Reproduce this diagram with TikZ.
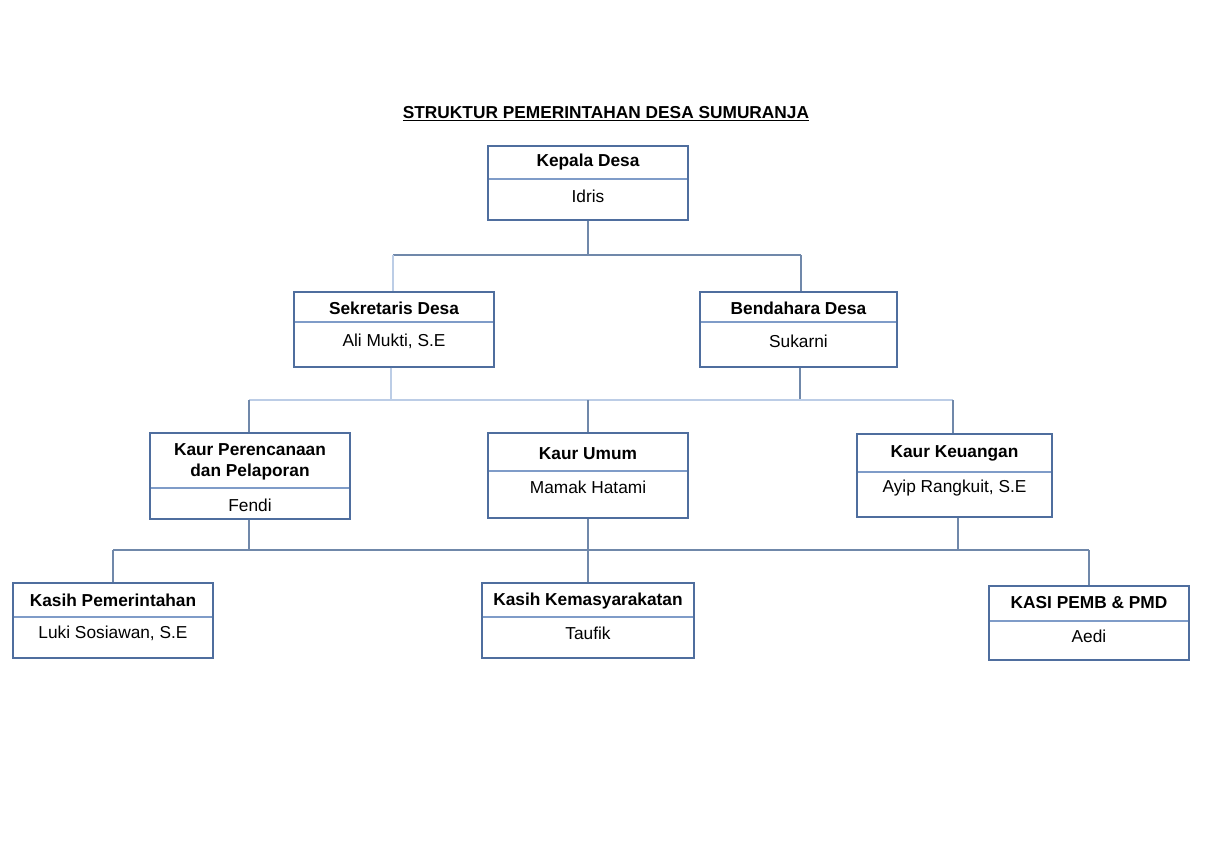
\documentclass[tikz,border=0pt]{standalone}
\usepackage{fontspec}
\setmainfont{Liberation Sans}
\definecolor{boxc}{HTML}{4F6E9E}
\definecolor{divc}{HTML}{7F9CC8}
\definecolor{conm}{HTML}{7088AA}
\definecolor{conl}{HTML}{BCCDE6}
\tikzset{
  orgbox/.style={draw=boxc, line width=1.4pt, fill=white, inner sep=0pt},
  hdr/.style={font=\fontsize{17.3}{21}\selectfont\bfseries, align=center, inner sep=0pt},
  who/.style={font=\fontsize{17.3}{21}\selectfont, inner sep=0pt},
  divl/.style={draw=divc, line width=1.1pt},
  cmed/.style={draw=conm, line width=1.2pt},
  clight/.style={draw=conl, line width=1.4pt},
}
\newcommand{\orgunit}[8]{%
  % #1 name, #2 x1, #3 y1, #4 x2, #5 y2, #6 divider y, #7 header y, #8 header
  \node[orgbox, minimum width={(#4-#2)*1pt}, minimum height={(#5-#3)*1pt}] (#1) at ({(#2+#4)/2},{(#3+#5)/2}) {};
  \draw[divl] (#2+0.8,#6) -- (#4-0.8,#6);
  \node[hdr] (#1h) at ({(#2+#4)/2},#7) {#8};
}
\begin{document}
\begin{tikzpicture}[x=1pt,y=-1pt]
\useasboundingbox[fill=white] (0,0) rectangle (1212,857);

\node[font=\fontsize{17.3}{21}\selectfont\bfseries, inner sep=0pt] (title) at (606,114) {\underline{STRUKTUR PEMERINTAHAN DESA SUMURANJA}};

% boxes
\orgunit{kd}{488}{146}{688}{220}{179}{162}{Kepala Desa}
\node[who] (kdn) at (588,196) {Idris};
\orgunit{sd}{294}{292}{494}{367}{322}{308}{Sekretaris Desa}
\node[who] (sdn) at (394,341) {Ali Mukti, S.E};
\orgunit{bd}{700}{292}{897}{367}{322}{308}{Bendahara Desa}
\node[who] (bdn) at (798.5,341) {Sukarni};
\orgunit{kp}{150}{433}{350}{519}{488}{462}{Kaur Perencanaan\\dan Pelaporan}
\node[who] (kpn) at (250,505) {Fendi};
\orgunit{ku}{488}{433}{688}{518}{471}{454}{Kaur Umum}
\node[who] (kun) at (588,487) {Mamak Hatami};
\orgunit{kk}{857}{434}{1052}{517}{472}{453}{Kaur Keuangan}
\node[who] (kkn) at (954.5,488) {Ayip Rangkuit, S.E};
\orgunit{ksp}{13}{583}{213}{658}{617}{600}{Kasih Pemerintahan}
\node[who] (kspn) at (113,633) {Luki Sosiawan, S.E};
\orgunit{ksk}{482}{583}{694}{658}{617}{601}{Kasih Kemasyarakatan}
\node[who] (kskn) at (588,633) {Taufik};
\orgunit{kpm}{989}{586}{1189}{660}{621}{603}{KASI PEMB \& PMD}
\node[who] (kpmn) at (1089,636) {Aedi};

% junctions
\coordinate (j1) at (587,255);
\coordinate (j1l) at (393,255);
\coordinate (j1r) at (801,255);
\coordinate (j2) at (588,400);
\coordinate (j2l) at (249,400);
\coordinate (j2r) at (953,400);
\coordinate (j3) at (588,550);
\coordinate (j3l) at (113,550);
\coordinate (j3r) at (1089,550);

% level 1
\draw[cmed] (kd.south) -- (kd.south |- j1);
\draw[cmed] (j1l) -- (j1r);
\draw[clight] (j1l) -- (j1l |- sd.north);
\draw[cmed] (j1r) -- (j1r |- bd.north);

% level 2
\draw[clight] ([xshift=-3pt]sd.south) -- ([xshift=-3pt]sd.south |- j2);
\draw[cmed] ([xshift=1.5pt]bd.south) -- ([xshift=1.5pt]bd.south |- j2);
\draw[clight] (j2l) -- (j2r);
\draw[cmed] (j2l) -- (j2l |- kp.north);
\draw[cmed] (j2) -- (ku.north);
\draw[cmed] (j2r) -- (j2r |- kk.north);

% level 3
\draw[cmed] (kp.south -| j2l) -- (j2l |- j3);
\draw[cmed] (ku.south) -- (ksk.north);
\draw[cmed] ([xshift=3.5pt]kk.south) -- ([xshift=3.5pt]kk.south |- j3);
\draw[cmed] (j3l) -- (j3r);
\draw[cmed] (j3l) -- (j3l |- ksp.north);
\draw[cmed] (j3r) -- (j3r |- kpm.north);
\end{tikzpicture}
\end{document}
